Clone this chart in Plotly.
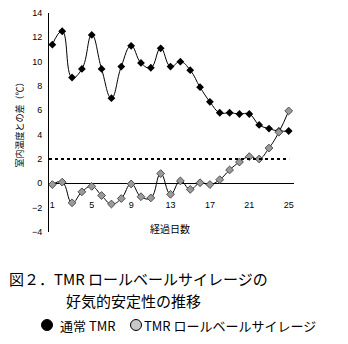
import plotly.graph_objects as go

# Days elapsed
days = list(range(1, 26))

# Temperature difference from room temperature (°C)
normal_tmr = [11.4, 12.5, 8.7, 9.4, 12.2, 9.4, 7.0, 9.6, 11.3, 9.9, 9.5, 11.1, 9.6,
              10.0, 9.3, 7.9, 6.7, 5.8, 5.8, 5.7, 5.7, 4.8, 4.5, 4.3, 4.3]
roll_bale = [-0.1, 0.1, -1.6, -0.7, -0.25, -1.0, -1.7, -1.25, -0.05, -1.1, -1.2, 0.8, -0.9,
             0.2, -0.5, 0.05, -0.1, 0.3, 1.1, 1.75, 2.2, 2.0, 2.9, 4.2, 5.95]

threshold = 2
x_ticks = [1, 5, 9, 13, 17, 21, 25]
y_ticks = list(range(-4, 15, 2))

W, H = 348, 344
L, R, T, B = 49, 54, 13, 112
pw, ph = W - L - R, H - T - B

def px(x):
    return (x - L) / pw

def py(y):
    return (H - B - y) / ph

jp = "Noto Sans CJK JP"
num = "Liberation Sans"

fig = go.Figure()
fig.add_trace(go.Scatter(
    x=days, y=normal_tmr, mode="lines+markers",
    line=dict(color="black", width=1, shape="spline", smoothing=1.3),
    marker=dict(symbol="diamond", size=6, color="black"),
    name="通常 TMR", showlegend=False))
fig.add_trace(go.Scatter(
    x=days, y=roll_bale, mode="lines+markers",
    line=dict(color="black", width=1, shape="spline", smoothing=1.3),
    marker=dict(symbol="diamond", size=6, color="#9a9a9a",
                line=dict(color="#505050", width=1)),
    name="TMR ロールベールサイレージ", showlegend=False))

# reference level at 2 °C
fig.add_shape(type="line", xref="paper", yref="y", x0=0, x1=0.98,
              y0=threshold, y1=threshold,
              line=dict(color="black", width=2, dash="dot"))

fig.update_layout(
    width=W, height=H,
    margin=dict(l=L, r=R, t=T, b=B, autoexpand=False),
    paper_bgcolor="white", plot_bgcolor="white",
    font=dict(family=num, size=9, color="black"),
    xaxis=dict(range=[0.66, 25.54], tickvals=x_ticks, showgrid=False,
               showline=False, zeroline=False, ticks="",
               anchor="free", position=0.155,
               tickfont=dict(family=num, size=9, color="black")),
    yaxis=dict(range=[-4, 14], tickvals=y_ticks, showgrid=False,
               showline=True, linecolor="black", linewidth=1,
               zeroline=True, zerolinecolor="black", zerolinewidth=1,
               ticks="", ticklabelstandoff=4,
               title=dict(text="室内温度との差（℃）",
                          font=dict(family=jp, size=9, color="black"),
                          standoff=6),
               tickfont=dict(family=num, size=9, color="black")),
)

annotations = [
    dict(x=px(170), y=py(228), text="経過日数", font=dict(family=jp, size=10)),
    dict(x=px(7), y=py(278), text="図２．TMR ロールベールサイレージの",
         xanchor="left", font=dict(family=jp, size=15)),
    dict(x=px(64), y=py(300), text="好気的安定性の推移",
         xanchor="left", font=dict(family=jp, size=15)),
    dict(x=px(58), y=py(325), text="通常 TMR", xanchor="left",
         font=dict(family=jp, size=13)),
    dict(x=px(142), y=py(325), text="TMR ロールベールサイレージ", xanchor="left",
         font=dict(family=jp, size=13)),
]
for a in annotations:
    a.update(xref="paper", yref="paper", showarrow=False)
    a.setdefault("xanchor", "center")
    a["yanchor"] = "middle"
    a["font"]["color"] = "black"
fig.update_layout(annotations=annotations)

# legend swatches below the caption
for cx, fill in [(47, "black"), (136, "#c8c8c8")]:
    r = 5.5
    fig.add_shape(type="circle", xref="paper", yref="paper",
                  x0=px(cx - r), x1=px(cx + r), y0=py(325 + r), y1=py(325 - r),
                  fillcolor=fill, line=dict(color="black", width=1))

fig.write_html("out.html")
